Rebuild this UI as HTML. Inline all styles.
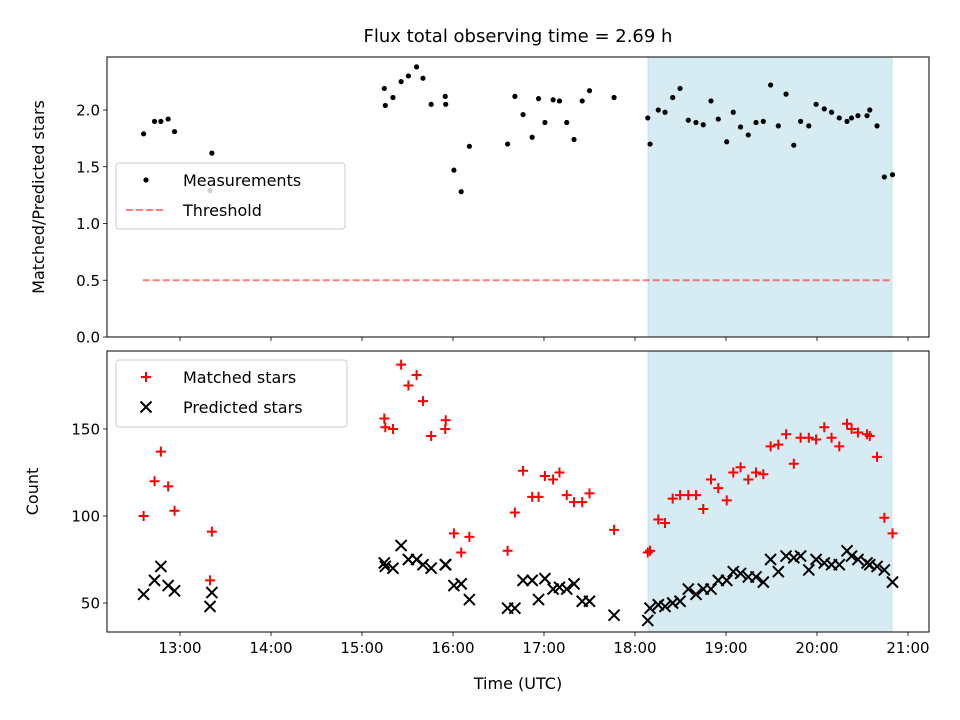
<!DOCTYPE html>
<html><head><meta charset="utf-8"><style>
body{margin:0;background:#fff}
svg{display:block;font-family:"DejaVu Sans","Liberation Sans",sans-serif}
</style></head><body>
<svg id="chart" width="960" height="720">
<rect width="960" height="720" fill="#fff"/>
<text x="518" y="42" font-size="18" text-anchor="middle">Flux total observing time = 2.69 h</text>
<g id="topPanel"></g>
<g id="botPanel"></g>
</svg>
<script>
// times in decimal hours UTC
const times = [12.60,12.72,12.79,12.87,12.94,13.33,13.35,
15.245,15.256,15.34,15.43,15.51,15.60,15.67,15.76,15.915,15.92,16.01,16.09,16.18,
16.60,16.68,16.77,16.87,16.94,17.01,17.10,17.17,17.25,17.33,17.42,17.50,17.77,
18.14,18.165,18.256,18.33,18.414,18.495,18.586,18.67,18.75,18.835,18.915,19.008,19.08,19.16,19.245,19.33,19.41,19.49,19.575,19.66,19.745,19.82,19.91,19.99,20.08,20.16,20.245,20.33,20.38,20.45,20.55,20.58,20.66,20.74,20.83];
const ratio = [1.79,1.90,1.90,1.92,1.81,1.29,1.62,
2.19,2.04,2.11,2.25,2.30,2.38,2.28,2.05,2.12,2.05,1.47,1.28,1.68,
1.70,2.12,1.96,1.76,2.10,1.89,2.09,2.08,1.89,1.74,2.08,2.17,2.11,
1.93,1.70,2.00,1.98,2.11,2.19,1.91,1.89,1.87,2.08,1.92,1.72,1.98,1.85,1.78,1.89,1.90,2.22,1.86,2.14,1.69,1.90,1.86,2.05,2.01,1.98,1.93,1.90,1.93,1.95,1.95,2.00,1.86,1.41,1.43];
const matched = [100,120,137,117,103,63,91,
156,151,150,187,175,181,166,146,150,155,90,79,88,
80,102,126,111,111,123,121,125,112,108,108,113,92,
79,80,98,96,110,112,112,112,104,121,116,109,125,128,121,125,124,140,141,147,130,145,145,144,151,145,140,153,150,148,147,146,134,99,90];
const predicted = [55,63,71,60,57,48,56,
73,71,70,83,75,75,72,70,72,72,60,61,52,
47,47,63,63,52,64,58,59,58,61,51,51,43,
40,47,49,48,50,51,58,55,58,58,63,63,68,67,65,65,62,75,68,77,76,77,69,75,73,72,72,80,77,75,73,72,71,69,62];
const xTicks = [13,14,15,16,17,18,19,20,21];
const xTickLabels = ["13:00","14:00","15:00","16:00","17:00","18:00","19:00","20:00","21:00"];
const topTicks = [0,0.5,1.0,1.5,2.0];
const botTicks = [50,100,150];
const shadeStart = 18.143, shadeEnd = 20.824;
const threshold = 0.5, threshStart = 12.59, threshEnd = 20.82;

const NS="http://www.w3.org/2000/svg";
const L=107,R=929;
const X=h=>180+(h-13)*91;
const YT=v=>337-v*113.5;
const YB=v=>603-(v-50)*1.74;
function mk(tag,attrs,parent){const e=document.createElementNS(NS,tag);for(const k in attrs)e.setAttribute(k,attrs[k]);parent.appendChild(e);return e;}
const topG=document.getElementById('topPanel'),botG=document.getElementById('botPanel');

function panel(g,y0,y1,ticks,Y,fmt,ylabel,ynameP){
  const s=mk('rect',{x:X(shadeStart),y:y0,width:X(shadeEnd)-X(shadeStart),height:y1-y0,fill:'#add8e6','fill-opacity':0.5,stroke:'#add8e6','stroke-opacity':0.6},g);
  
  
  xTicks.forEach((t,i)=>{
    const l=mk('line',{x1:X(t),x2:X(t),y1:y1,y2:y1+4,stroke:'#000','stroke-width':0.8},g);
    
    
    if(g===botG){const tx=mk('text',{x:X(t),y:y1+21,'font-size':15,'text-anchor':'middle'},g);tx.textContent=xTickLabels[i];
      
      }
  });
  ticks.forEach(t=>{
    mk('line',{x1:L-4,x2:L,y1:Y(t),y2:Y(t),stroke:'#000','stroke-width':0.8},g);
    const tx=mk('text',{x:L-7,y:Y(t)+5.5,'font-size':15,'text-anchor':'end'},g);tx.textContent=fmt(t);
    
    
  });
  const yl=mk('text',{x:0,y:0,'font-size':16,'text-anchor':'middle',transform:`translate(${ynameP},${(y0+y1)/2}) rotate(-90)`},g);
  yl.textContent=ylabel;
  
  
}
panel(topG,57,337,topTicks,YT,v=>v.toFixed(1),'Matched/Predicted stars',44);
panel(botG,351,632,botTicks,YB,v=>String(v),'Count',38);

const th=mk('line',{x1:X(threshStart),x2:X(threshEnd),y1:YT(threshold),y2:YT(threshold),stroke:'#ff0000','stroke-opacity':0.5,'stroke-width':2,'stroke-dasharray':'7,3'},topG);


times.forEach((t,i)=>{if(ratio[i]===undefined)return;
  const c=mk('circle',{cx:X(t),cy:YT(ratio[i]),r:2.6,fill:'#000'},topG);
  
  
});
times.forEach((t,i)=>{
  if(matched[i]!==undefined){const x=X(t),y=YB(matched[i]);
    const p=mk('path',{d:`M${x-5},${y}H${x+5}M${x},${y-5}V${y+5}`,stroke:'#ff0000','stroke-width':2},botG);
    
    }
  if(predicted[i]!==undefined){const x=X(t),y=YB(predicted[i]);
    const p=mk('path',{d:`M${x-5.5},${y-5.5}L${x+5.5},${y+5.5}M${x-5.5},${y+5.5}L${x+5.5},${y-5.5}`,stroke:'#000','stroke-width':2},botG);
    
    }
});
[[topG,57,337],[botG,351,632]].forEach(([g,a,b])=>{
  const f=mk('rect',{x:L,y:a,width:R-L,height:b-a,fill:'none',stroke:'#000','stroke-width':1},g);
  
  
});
const xl=mk('text',{x:518,y:689,'font-size':16,'text-anchor':'middle'},botG);xl.textContent='Time (UTC)';



function legend(g,x,y,w,h,items){
  const b=mk('rect',{x:x,y:y,width:w,height:h,rx:3,fill:'#fff','fill-opacity':0.8,stroke:'#ccc'},g);
  
  
  items.forEach((it,i)=>{const cy=y+17+i*30;it.draw(x+30,cy);
    const t=mk('text',{x:x+67,y:cy+6,'font-size':16},g);t.textContent=it.label;
    
    });
}
legend(topG,116,163,229,66,[
 {label:'Measurements',draw:(x,y)=>mk('circle',{cx:x,cy:y,r:2.6,fill:'#000'},topG)},
 {label:'Threshold',draw:(x,y)=>mk('line',{x1:x-20,x2:x+20,y1:y,y2:y,stroke:'#ff0000','stroke-opacity':0.5,'stroke-width':2,'stroke-dasharray':'7,3'},topG)}]);
legend(botG,116,360,231,67,[
 {label:'Matched stars',draw:(x,y)=>mk('path',{d:`M${x-5},${y}H${x+5}M${x},${y-5}V${y+5}`,stroke:'#ff0000','stroke-width':2},botG)},
 {label:'Predicted stars',draw:(x,y)=>mk('path',{d:`M${x-5.5},${y-5.5}L${x+5.5},${y+5.5}M${x-5.5},${y+5.5}L${x+5.5},${y-5.5}`,stroke:'#000','stroke-width':2},botG)}]);
</script>
</body></html>
